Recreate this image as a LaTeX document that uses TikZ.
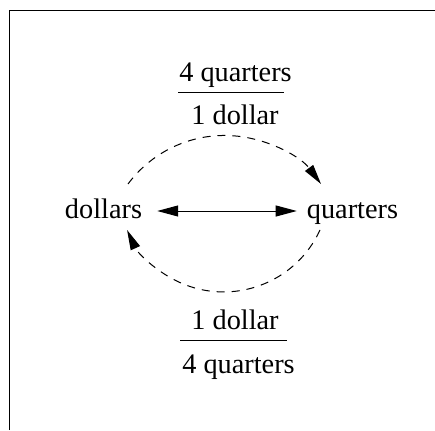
\documentclass[tikz,border=0pt]{standalone}
\usepackage{fontspec}
\setmainfont{Liberation Serif}
\usetikzlibrary{arrows.meta}
\begin{document}
\begin{tikzpicture}[x=1pt,y=1pt,
  lbl/.style={anchor=base,inner sep=0pt,font=\fontsize{28.3}{34}\selectfont},
  thin line/.style={line width=1pt},
  conv/.style={line width=1pt,dash pattern=on 8pt off 7pt,-{Triangle[length=20pt,width=10pt]}},
  both/.style={line width=1pt,{Triangle[length=21pt,width=11pt]}-{Triangle[length=21pt,width=11pt]}}]
\useasboundingbox (0,0) rectangle (435,-430);
% frame
\draw[thin line] (9.5,-430) -- (9.5,-11) -- (435,-11);
% nodes
\node[lbl] (dollars) at (103.5,-218) {dollars};
\node[lbl] (quarters) at (352.5,-218) {quarters};
\node[lbl] (tnum) at (235.5,-82) {4 quarters};
\node[lbl] (tden) at (235,-125) {1 dollar};
\node[lbl] (bnum) at (235,-329) {1 dollar};
\node[lbl] (bden) at (238.5,-373) {4 quarters};
% fraction rules
\coordinate (tr1) at (178,-92.7);
\coordinate (tr2) at (284,-92.7);
\coordinate (br1) at (180,-340.7);
\coordinate (br2) at (287,-340.7);
\draw[thin line] (tr1) -- (tr2);
\draw[thin line] (br1) -- (br2);
% double arrow
\draw[both] ([xshift=15pt,yshift=7pt]dollars.base east) -- ([xshift=-10pt,yshift=7pt]quarters.base west);
% dashed arcs
\coordinate (ts) at (128,-184);
\coordinate (bs) at (320,-230);
\draw[conv] (ts) arc[start angle=143.4, end angle=36.6, radius=120.2];
\draw[conv] (bs) arc[start angle=-24.6, end angle=-155.4, radius=106.1];
\end{tikzpicture}
\end{document}
